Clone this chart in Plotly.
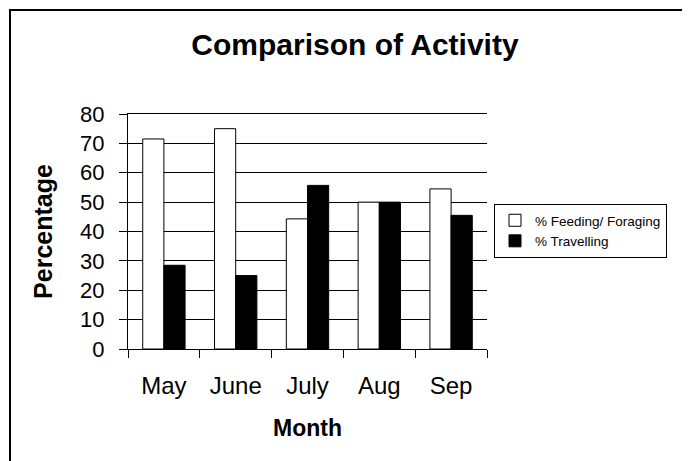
import plotly.graph_objects as go

months = ["May", "June", "July", "Aug", "Sep"]
feeding = [71.5, 75.0, 44.3, 50.0, 54.5]
travelling = [28.5, 25.0, 55.7, 50.0, 45.5]
y_ticks = [0, 10, 20, 30, 40, 50, 60, 70, 80]

FONT = "Liberation Sans, Arial, sans-serif"

# page has an 8px body margin; figure coordinates below are page coords - 8
OFF = 8
W, H = 690 - OFF, 461 - OFF
ML, MT = 128 - OFF, 114 - OFF
PR, PB = 487 - OFF, 349 - OFF
MR, MB = W - PR, H - PB
PW = W - ML - MR
PH = H - MT - MB


def px_x(px):
    return (px - OFF - ML) / PW


def px_y(py):
    return (PB - (py - OFF)) / PH


fig = go.Figure()
fig.add_trace(go.Bar(
    x=months, y=feeding, name="% Feeding/ Foraging",
    marker=dict(color="white", line=dict(color="black", width=1)),
))
fig.add_trace(go.Bar(
    x=months, y=travelling, name="% Travelling",
    marker=dict(color="black", line=dict(color="black", width=1)),
))

fig.update_layout(
    width=W, height=H,
    margin=dict(l=ML, r=MR, t=MT, b=MB, autoexpand=False),
    paper_bgcolor="white", plot_bgcolor="white",
    font=dict(family=FONT, color="black"),
    barmode="group", bargap=0.41, bargroupgap=0,
    title=dict(text="<b>Comparison of Activity</b>", x=(355 - OFF) / W, xanchor="center",
               y=1 - (44 - OFF) / H, yanchor="middle",
               font=dict(size=30, family=FONT, color="black")),
    showlegend=True,
    legend=dict(
        x=px_x(494), y=px_y(204), xanchor="left", yanchor="top",
        bgcolor="white", bordercolor="black", borderwidth=1,
        font=dict(size=13.5, family=FONT, color="black"),
        traceorder="normal", itemwidth=30,
    ),
    shapes=[dict(
        type="rect", xref="paper", yref="paper", layer="below",
        x0=px_x(10), x1=px_x(720),
        y0=px_y(490), y1=px_y(10),
        line=dict(color="black", width=2), fillcolor="rgba(0,0,0,0)",
    )],
)

fig.update_xaxes(
    showline=True, linecolor="black", linewidth=1, mirror=True,
    ticks="outside", ticklen=8, tickcolor="black", tickwidth=1,
    tickson="boundaries", showgrid=False,
    tickfont=dict(size=24, family=FONT, color="black"),
    ticklabelstandoff=15,
    title=dict(text="<b>Month</b>", font=dict(size=23, family=FONT, color="black"), standoff=22),
    automargin=False,
)
fig.update_yaxes(
    range=[0, 80], tickvals=y_ticks,
    showline=True, linecolor="black", linewidth=1,
    ticks="outside", ticklen=8, tickcolor="black", tickwidth=1,
    showgrid=True, gridcolor="black", gridwidth=1,
    zeroline=False,
    tickfont=dict(size=22, family=FONT, color="black"),
    ticklabelstandoff=10,
    title=dict(text="<b>Percentage</b>", font=dict(size=25, family=FONT, color="black"), standoff=20),
    automargin=False,
)

fig.write_html("out.html")
